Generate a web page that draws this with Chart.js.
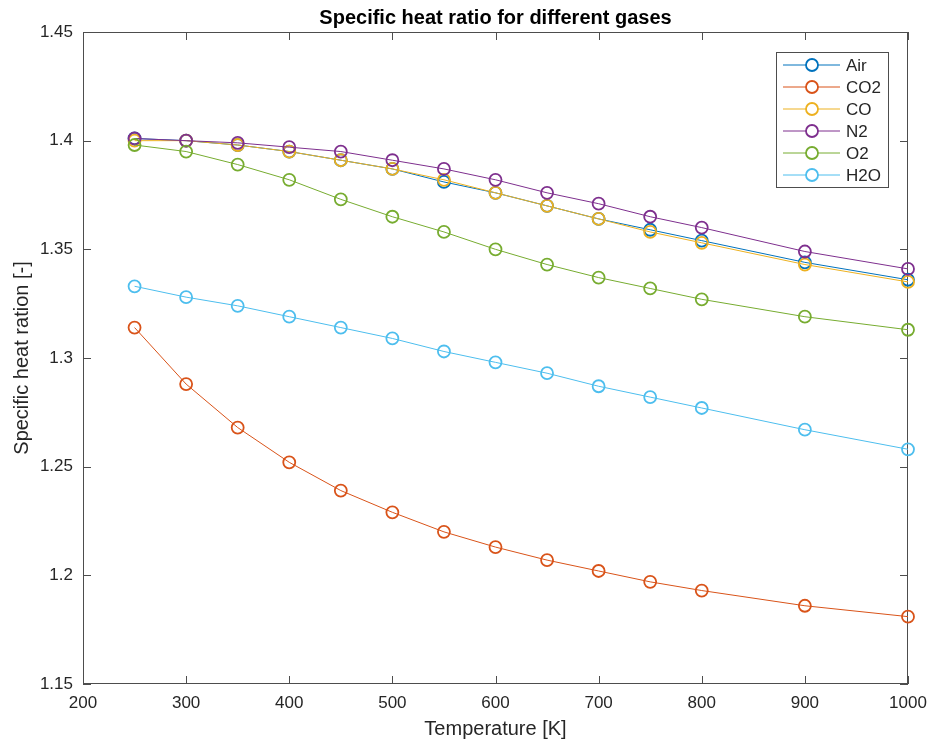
<!DOCTYPE html>
<html>
<head>
<meta charset="utf-8">
<title>Specific heat ratio</title>
<script src="https://cdn.jsdelivr.net/npm/chart.js@4.4.1/dist/chart.umd.min.js"></script>
<style>
    html, body { margin: 0; padding: 0; background: #ffffff; }
    canvas { display: block; }
</style>
</head>
<body>
<canvas id="kChart" width="932" height="743"></canvas>
<script>
// Temperature points [K]
const temperatures = [250, 300, 350, 400, 450, 500, 550, 600, 650, 700, 750, 800, 900, 1000];

// Specific heat ratio k = cp/cv for each gas
const airK = [1.401, 1.400, 1.398, 1.395, 1.391, 1.387, 1.381, 1.376, 1.370, 1.364, 1.359, 1.354, 1.344, 1.336];
const co2K = [1.314, 1.288, 1.268, 1.252, 1.239, 1.229, 1.220, 1.213, 1.207, 1.202, 1.197, 1.193, 1.186, 1.181];
const coK  = [1.400, 1.400, 1.398, 1.395, 1.391, 1.387, 1.382, 1.376, 1.370, 1.364, 1.358, 1.353, 1.343, 1.335];
const n2K  = [1.401, 1.400, 1.399, 1.397, 1.395, 1.391, 1.387, 1.382, 1.376, 1.371, 1.365, 1.360, 1.349, 1.341];
const o2K  = [1.398, 1.395, 1.389, 1.382, 1.373, 1.365, 1.358, 1.350, 1.343, 1.337, 1.332, 1.327, 1.319, 1.313];
const h2oK = [1.333, 1.328, 1.324, 1.319, 1.314, 1.309, 1.303, 1.298, 1.293, 1.287, 1.282, 1.277, 1.267, 1.258];

const gasNames = ['Air', 'CO2', 'CO', 'N2', 'O2', 'H2O'];
const gasValues = [airK, co2K, coK, n2K, o2K, h2oK];
const gasColors = ['#0072BD', '#D95319', '#EDB120', '#7E2F8E', '#77AC30', '#4DBEEE'];

// Axis ticks
const xTicks = [200, 300, 400, 500, 600, 700, 800, 900, 1000];
const yTicks = [1.15, 1.2, 1.25, 1.3, 1.35, 1.4, 1.45];

const textColor = '#262626';
const axisColor = '#4d4d4d';
const fontFamily = "'Liberation Sans', Arial, Helvetica, sans-serif";
const markerRadius = 6;
const markerWidth = 1.8;

// Box around the axes with inward tick marks on all four sides
const axesFrame = {
    id: 'axesFrame',
    beforeDatasetsDraw(chart) {
        const { ctx, chartArea: a, scales: { x, y } } = chart;
        const len = 8;
        ctx.save();
        ctx.strokeStyle = axisColor;
        ctx.lineWidth = 1;
        ctx.beginPath();
        x.ticks.forEach(t => {
            const px = Math.round(x.getPixelForValue(t.value)) + 0.5;
            ctx.moveTo(px, a.bottom);
            ctx.lineTo(px, a.bottom - len);
            ctx.moveTo(px, a.top);
            ctx.lineTo(px, a.top + len);
        });
        y.ticks.forEach(t => {
            const py = Math.round(y.getPixelForValue(t.value)) + 0.5;
            ctx.moveTo(a.left, py);
            ctx.lineTo(a.left + len, py);
            ctx.moveTo(a.right, py);
            ctx.lineTo(a.right - len, py);
        });
        ctx.stroke();
        ctx.strokeRect(a.left + 0.5, a.top + 0.5, a.width - 1, a.height - 1);
        ctx.restore();
    }
};

// Legend box in the upper right corner: line with marker, then the name
const boxLegend = {
    id: 'boxLegend',
    afterDraw(chart) {
        const { ctx, chartArea: a } = chart;
        const sets = chart.data.datasets;
        const rowH = 22;
        const boxW = 112;
        const boxH = 3 + sets.length * rowH;
        const left = a.right - 20 - boxW;
        const top = a.top + 20;

        ctx.save();
        ctx.fillStyle = '#ffffff';
        ctx.fillRect(left, top, boxW, boxH);
        ctx.strokeStyle = axisColor;
        ctx.lineWidth = 1;
        ctx.strokeRect(left + 0.5, top + 0.5, boxW, boxH);

        ctx.font = '17px ' + fontFamily;
        ctx.textBaseline = 'middle';
        ctx.textAlign = 'left';
        sets.forEach((ds, i) => {
            const cy = top + 13 + i * rowH;
            ctx.strokeStyle = ds.borderColor;
            ctx.lineWidth = 1;
            ctx.beginPath();
            ctx.moveTo(left + 7, cy);
            ctx.lineTo(left + 64, cy);
            ctx.stroke();
            ctx.lineWidth = markerWidth;
            ctx.beginPath();
            ctx.arc(left + 36, cy, markerRadius, 0, Math.PI * 2);
            ctx.fillStyle = '#ffffff';
            ctx.fill();
            ctx.stroke();
            ctx.fillStyle = textColor;
            ctx.fillText(ds.label, left + 70, cy + 1);
        });
        ctx.restore();
    }
};

const datasets = gasNames.map((name, i) => ({
    label: name,
    data: gasValues[i].map((v, j) => ({ x: temperatures[j], y: v })),
    borderColor: gasColors[i],
    backgroundColor: 'rgba(0,0,0,0)',
    borderWidth: 1,
    pointStyle: 'circle',
    pointRadius: markerRadius,
    pointBorderWidth: markerWidth,
    pointBorderColor: gasColors[i],
    pointBackgroundColor: 'rgba(0,0,0,0)',
    tension: 0,
    clip: false,
    // later gases drawn on top
    order: gasNames.length - i
}));

new Chart(document.getElementById('kChart'), {
    type: 'line',
    data: { datasets: datasets },
    options: {
        responsive: false,
        animation: false,
        devicePixelRatio: 1,
        layout: { padding: { left: 0, right: 24, top: 0, bottom: 0 } },
        plugins: {
            legend: { display: false },
            tooltip: { enabled: false },
            title: {
                display: true,
                fullSize: false,
                text: 'Specific heat ratio for different gases',
                color: '#000000',
                font: { family: fontFamily, size: 20, weight: 'bold' },
                padding: { top: 6, bottom: 2 }
            }
        },
        scales: {
            x: {
                type: 'linear',
                min: 200,
                max: 1000,
                grid: { display: false, drawTicks: false },
                border: { display: false },
                afterBuildTicks: scale => { scale.ticks = xTicks.map(v => ({ value: v })); },
                afterFit: scale => {
                    scale.height = 59;
                    scale.paddingLeft = 0;
                    scale.paddingRight = 0;
                },
                ticks: {
                    color: textColor,
                    padding: 9,
                    maxRotation: 0,
                    font: { family: fontFamily, size: 17 },
                    callback: v => String(v)
                },
                title: {
                    display: true,
                    text: 'Temperature [K]',
                    color: textColor,
                    font: { family: fontFamily, size: 20 },
                    padding: { top: 0, bottom: 2 }
                }
            },
            y: {
                type: 'linear',
                min: 1.15,
                max: 1.45,
                grid: { display: false, drawTicks: false },
                border: { display: false },
                afterBuildTicks: scale => { scale.ticks = yTicks.map(v => ({ value: v })); },
                afterFit: scale => { scale.width = 83; },
                ticks: {
                    color: textColor,
                    padding: 10,
                    font: { family: fontFamily, size: 17 },
                    callback: v => String(parseFloat(Number(v).toFixed(2)))
                },
                title: {
                    display: true,
                    text: 'Specific heat ration [-]',
                    color: textColor,
                    font: { family: fontFamily, size: 20 },
                    padding: { top: 10, bottom: 0 }
                }
            }
        }
    },
    plugins: [axesFrame, boxLegend]
});
</script>
</body>
</html>
